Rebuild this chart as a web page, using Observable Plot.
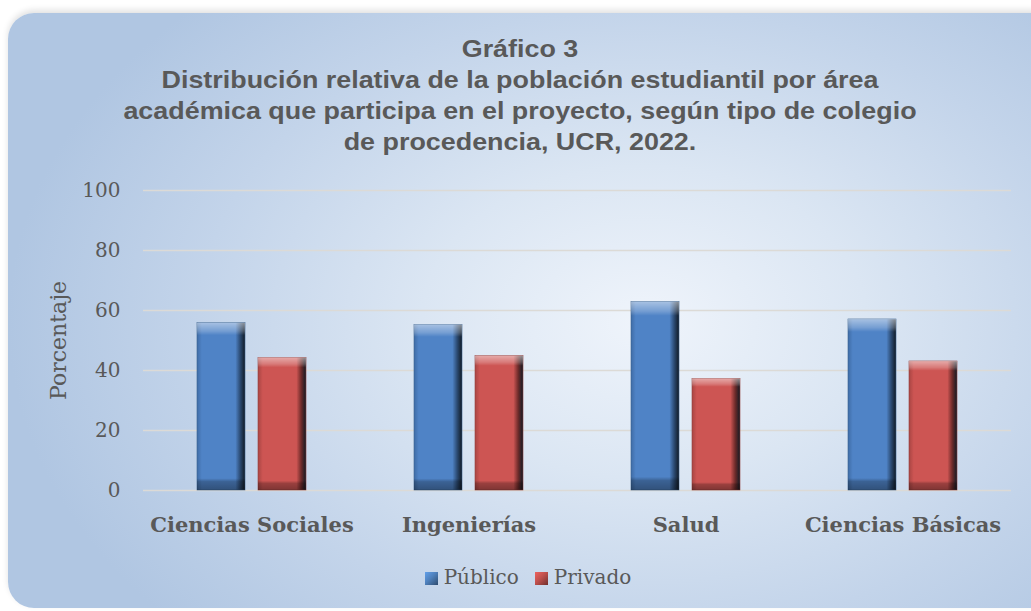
<!DOCTYPE html>
<html>
<head>
<meta charset="utf-8">
<script src="https://cdn.jsdelivr.net/npm/d3@7"></script>
<script src="https://cdn.jsdelivr.net/npm/@observablehq/plot@0.6"></script>
<style>
  html, body { margin: 0; padding: 0; background: #ffffff; width: 1031px; height: 611px; overflow: hidden; }
  #panel {
    position: absolute; left: 8px; top: 13px; width: 1060px; height: 595px;
    border-radius: 26px;
    background: radial-gradient(ellipse 60% 75% at 60% 52%, #eff4fb 0%, #dbe6f3 35%, #c3d4ea 70%, #b0c6e2 100%);
    box-shadow: 0 -3px 6px rgba(0,0,0,0.12);
  }
  #title {
    position: absolute; left: 0; top: 33px; width: 1040px; text-align: center;
    font-family: "Liberation Sans", Arial, sans-serif; font-weight: bold; font-size: 24px;
    line-height: 31px; color: #595959;
    transform: scaleX(1.12); transform-origin: 520px 0;
  }
  #chart { position: absolute; left: 0; top: 170px; }
  #legend {
    position: absolute; left: 0; top: 565px; width: 1056px; text-align: center;
    font-family: "DejaVu Serif", serif; font-size: 20px; color: #595959;
  }
  #legend span.item { display: inline-block; margin: 0 8px; }
  #legend span.sw { display: inline-block; width: 13px; height: 13px; margin-right: 6px; vertical-align: -1px; }
</style>
</head>
<body>
<div id="panel"></div>
<div id="title">Gráfico 3<br>Distribución relativa de la población estudiantil por área<br>académica que participa en el proyecto, según tipo de colegio<br>de procedencia, UCR, 2022.</div>
<div id="chart"></div>
<div id="legend"></div>
<script>
const categorias = ["Ciencias Sociales", "Ingenierías", "Salud", "Ciencias Básicas"];
const tipos = ["Público", "Privado"];
const publico = [55.8, 55.2, 62.8, 57.0];
const privado = [44.2, 44.8, 37.2, 43.0];
const ticksY = [0, 20, 40, 60, 80, 100];
const colores = {"Público": "#4f81bd", "Privado": "#c0504d"};

const datos = [];
categorias.forEach((c, i) => {
  datos.push({area: c, tipo: "Público", valor: publico[i]});
  datos.push({area: c, tipo: "Privado", valor: privado[i]});
});

const chart = Plot.plot({
  width: 1031,
  height: 370,
  marginTop: 20,
  marginLeft: 143,
  marginRight: 20,
  marginBottom: 50,
  style: {background: "transparent", fontFamily: "DejaVu Serif, serif", overflow: "visible"},
  fx: {domain: categorias, padding: 0, label: null},
  x: {domain: tipos, paddingInner: 0.21, paddingOuter: 0.858, axis: null},
  y: {domain: [0, 100], label: null},
  marks: [
    Plot.gridY(ticksY, {stroke: "#dcdad6", strokeOpacity: 1, strokeWidth: 1.6}),
    Plot.axisY(ticksY, {tickSize: 0, tickPadding: 23, fontSize: 20, fill: "#595959", label: "Porcentaje", labelAnchor: "center", labelOffset: 93, labelArrow: "none"}),
    Plot.axisFx({anchor: "bottom", tickSize: 0, tickPadding: 27, fontSize: 21, fontWeight: "bold", fill: "#595959", label: null}),
    Plot.barY(datos.filter(d => d.tipo === "Público"), {fx: "area", x: "tipo", y: "valor", fill: "url(#gPub)", stroke: "#3b628f", strokeWidth: 0.6}),
    Plot.barY(datos.filter(d => d.tipo === "Público"), {fx: "area", x: "tipo", y: "valor", fill: "url(#gV)"}),
    Plot.barY(datos.filter(d => d.tipo === "Privado"), {fx: "area", x: "tipo", y: "valor", fill: "url(#gPri)", stroke: "#94403e", strokeWidth: 0.6}),
    Plot.barY(datos.filter(d => d.tipo === "Privado"), {fx: "area", x: "tipo", y: "valor", fill: "url(#gV)"})
  ]
});

// gradient definitions for the bevelled bars
const svg = d3.select(chart);
const defs = svg.insert("defs", ":first-child");
function hgrad(id, base, dark, darker) {
  const g = defs.append("linearGradient").attr("id", id).attr("x1", 0).attr("x2", 1).attr("y1", 0).attr("y2", 0);
  [[0, dark], [0.1, base], [0.8, base], [0.9, darker], [1, "#111a24"]].forEach(([o, c]) =>
    g.append("stop").attr("offset", o).attr("stop-color", c));
}
hgrad("gPub", "#4f83c6", "#3f6ca6", "#2b4a72");
hgrad("gPri", "#cd5553", "#a94543", "#6e2b2a");
const gv = defs.append("linearGradient").attr("id", "gV").attr("x1", 0).attr("x2", 0).attr("y1", 0).attr("y2", 1);
[[0, "rgba(255,255,255,0.5)"], [0.05, "rgba(255,255,255,0.22)"], [0.075, "rgba(255,255,255,0)"],
 [0.93, "rgba(0,0,0,0)"], [0.95, "rgba(0,0,0,0.25)"], [1, "rgba(0,0,0,0.38)"]].forEach(([o, c]) =>
  gv.append("stop").attr("offset", o).attr("stop-color", c));

svg.selectAll('[aria-label="y-axis label"] text, [aria-label="y-axis label"]').attr("font-size", 22);
document.getElementById("chart").appendChild(chart);

// legend
const leg = d3.select("#legend");
tipos.forEach(t => {
  const it = leg.append("span").attr("class", "item");
  const c = colores[t];
  it.append("span").attr("class", "sw")
    .style("background", `linear-gradient(135deg, ${d3.color(c).brighter(0.6)} 0%, ${c} 45%, ${d3.color(c).darker(1.5)} 100%)`);
  it.append("span").text(t);
});
</script>
</body>
</html>
